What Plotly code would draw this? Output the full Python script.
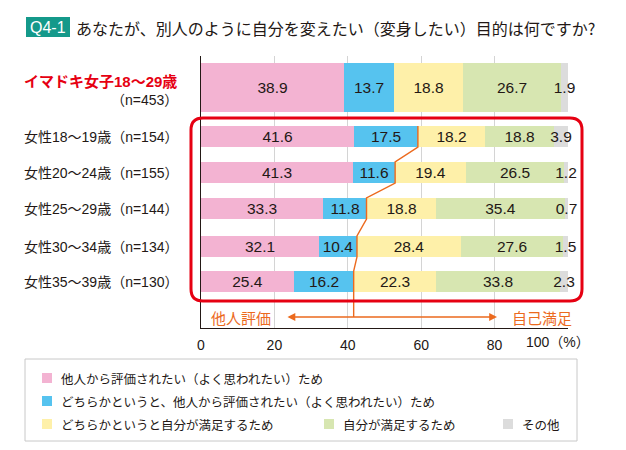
import plotly.graph_objects as go

# ---------------- data ----------------
categories = [
    "イマドキ女子18～29歳",
    "女性18～19歳（n=154）",
    "女性20～24歳（n=155）",
    "女性25～29歳（n=144）",
    "女性30～34歳（n=134）",
    "女性35～39歳（n=130）",
]
first_category_n = "（n=453）"

series_names = [
    "他人から評価されたい（よく思われたい）ため",
    "どちらかというと、他人から評価されたい（よく思われたい）ため",
    "どちらかというと自分が満足するため",
    "自分が満足するため",
    "その他",
]
s_other_eval = [38.9, 41.6, 41.3, 33.3, 32.1, 25.4]
s_rather_other = [13.7, 17.5, 11.6, 11.8, 10.4, 16.2]
s_rather_self = [18.8, 18.2, 19.4, 18.8, 28.4, 22.3]
s_self = [26.7, 18.8, 26.5, 35.4, 27.6, 33.8]
s_misc = [1.9, 3.9, 1.2, 0.7, 1.5, 2.3]

x_tick_vals = [0, 20, 40, 60, 80]
x_tick_text = ["0", "20", "40", "60", "80"]
x_last_label = "100（%）"

title_tag = "Q4-1"
title_text = "あなたが、別人のように自分を変えたい（変身したい）目的は何ですか?"
left_label = "他人評価"
right_label = "自己満足"

# ---------------- styles / layout ----------------
series_values = [s_other_eval, s_rather_other, s_rather_self, s_self, s_misc]
colors = ["#F3B3D2", "#56C3EF", "#FEF0A9", "#D7E6B1", "#DCDCDC"]
ORANGE = "#EC6A1E"
RED = "#E60012"
TEAL = "#14998A"
TXT = "#231815"
JP = "Noto Sans CJK JP"
MIX = "Liberation Sans, Noto Sans CJK JP"

W, H = 626, 450
PL, PR, PT, PB = 201, 568, 56, 328          # plot area in pixels
row_y = [87.5, 136.5, 172.5, 208.5, 246.5, 281.5]   # y axis is in pixel units
bar_w = [49, 21, 21, 21, 21, 21]
ARROW_Y = 317


def px(x):
    return (x - PL) / (PR - PL)


def py(y):
    return (PB - y) / (PB - PT)


def dx(p):
    return (p - PL) / (PR - PL) * 100


fig = go.Figure()

for name, vals, col in zip(series_names, series_values, colors):
    fig.add_trace(go.Bar(
        name=name, orientation="h", x=vals, y=row_y, width=bar_w,
        marker=dict(color=col, line=dict(width=0)),
        text=[f"{v:.1f}" for v in vals], textposition="inside",
        insidetextanchor="middle", textangle=0,
        textfont=dict(family=MIX, size=15.5, color=TXT),
        cliponaxis=False, showlegend=False, hoverinfo="skip",
    ))

# orange connector line along the boundary (pink + blue)
lx, ly = [], []
for i in range(1, len(row_y)):
    b = s_other_eval[i] + s_rather_other[i]
    lx += [b, b]
    ly += [row_y[i] - bar_w[i] / 2, row_y[i] + bar_w[i] / 2]
lx.append(lx[-1])
ly.append(ARROW_Y)
fig.add_trace(go.Scatter(x=lx, y=ly, mode="lines",
                         line=dict(color=ORANGE, width=1.4),
                         showlegend=False, hoverinfo="skip", cliponaxis=False))

shapes = []
annotations = []

# red rounded frame
def rounded(x0, y0, x1, y1, r):
    def P(x, y):
        return f"{px(x):.5f},{py(y):.5f}"
    return (f"M {P(x0 + r, y0)} L {P(x1 - r, y0)} Q {P(x1, y0)} {P(x1, y0 + r)} "
            f"L {P(x1, y1 - r)} Q {P(x1, y1)} {P(x1 - r, y1)} "
            f"L {P(x0 + r, y1)} Q {P(x0, y1)} {P(x0, y1 - r)} "
            f"L {P(x0, y0 + r)} Q {P(x0, y0)} {P(x0 + r, y0)} Z")

shapes.append(dict(type="path", xref="paper", yref="paper",
                   path=rounded(191, 118, 582, 301, 12),
                   line=dict(color=RED, width=3), fillcolor="rgba(0,0,0,0)",
                   layer="above"))

# title
shapes.append(dict(type="rect", xref="paper", yref="paper",
                   x0=px(26), x1=px(70), y0=py(17), y1=py(37),
                   fillcolor=TEAL, line=dict(width=0)))
annotations.append(dict(xref="paper", yref="paper", x=px(48), y=py(27.5),
                        text=title_tag, showarrow=False, xanchor="center", yanchor="middle",
                        font=dict(family=MIX, size=16, color="white")))
annotations.append(dict(xref="paper", yref="paper", x=px(74), y=py(27.5),
                        text=title_text, showarrow=False, xanchor="left", yanchor="middle",
                        font=dict(family=JP, size=16, color=TXT)))

# row labels
annotations.append(dict(xref="paper", yref="y", x=px(179), y=81,
                        text=f"<b>{categories[0]}</b>", showarrow=False,
                        xanchor="right", yanchor="middle",
                        font=dict(family=MIX, size=15, color=RED)))
annotations.append(dict(xref="paper", yref="y", x=px(180), y=99.5,
                        text=first_category_n, showarrow=False,
                        xanchor="right", yanchor="middle",
                        font=dict(family=MIX, size=14, color=TXT)))
for i in range(1, len(categories)):
    annotations.append(dict(xref="paper", yref="y", x=px(180), y=row_y[i],
                            text=categories[i], showarrow=False,
                            xanchor="right", yanchor="middle",
                            font=dict(family=MIX, size=14, color=TXT)))

# arrow and its labels
annotations.append(dict(xref="x", yref="y", axref="x", ayref="y",
                        x=dx(497), y=ARROW_Y, ax=dx(286), ay=ARROW_Y, text="",
                        showarrow=True, arrowhead=2, startarrowhead=2,
                        arrowside="end+start", arrowsize=1.2, startarrowsize=1.2,
                        arrowwidth=1.3, arrowcolor=ORANGE, standoff=0, startstandoff=0))
annotations.append(dict(xref="paper", yref="y", x=px(241), y=ARROW_Y,
                        text=left_label, showarrow=False, xanchor="center", yanchor="middle",
                        font=dict(family=JP, size=15, color=ORANGE)))
annotations.append(dict(xref="paper", yref="y", x=px(542), y=ARROW_Y,
                        text=right_label, showarrow=False, xanchor="center", yanchor="middle",
                        font=dict(family=JP, size=15, color=ORANGE)))

# last x tick label
annotations.append(dict(xref="paper", yref="paper", x=px(592), y=py(342),
                        text=x_last_label, showarrow=False, xanchor="right", yanchor="middle",
                        font=dict(family=MIX, size=14, color=TXT)))

# legend (drawn manually to reproduce the boxed layout)
shapes.append(dict(type="rect", xref="paper", yref="paper",
                   x0=px(25), x1=px(577), y0=py(359), y1=py(441),
                   line=dict(color="#C8C8C8", width=1), fillcolor="white"))
legend_pos = [(42, 378), (42, 401), (42, 424), (324, 424), (503, 424)]
for (lxp, lyp), name, col in zip(legend_pos, series_names, colors):
    shapes.append(dict(type="rect", xref="paper", yref="paper",
                       x0=px(lxp), x1=px(lxp + 10), y0=py(lyp - 5), y1=py(lyp + 5),
                       fillcolor=col, line=dict(width=0)))
    annotations.append(dict(xref="paper", yref="paper", x=px(lxp + 17), y=py(lyp),
                            text=name, showarrow=False, xanchor="left", yanchor="middle",
                            font=dict(family=JP, size=12.5, color=TXT)))

fig.update_layout(
    width=W, height=H,
    margin=dict(l=PL, r=W - PR, t=PT, b=H - PB, pad=0),
    paper_bgcolor="white", plot_bgcolor="white",
    barmode="stack", bargap=0,
    uniformtext=dict(minsize=15.5, mode="show"),
    shapes=shapes, annotations=annotations,
    showlegend=False,
    xaxis=dict(range=[0, 100], tickvals=x_tick_vals, ticktext=x_tick_text,
               showgrid=True, gridcolor="#D4D4D4", gridwidth=1,
               showline=True, linecolor="#231815", linewidth=1.3,
               zeroline=False, ticks="", ticklabelstandoff=4,
               tickfont=dict(family=MIX, size=14, color=TXT), fixedrange=True),
    yaxis=dict(range=[PB, PT], showticklabels=False, showgrid=False,
               zeroline=False, showline=True, linecolor="#231815", linewidth=1.3,
               ticks="", fixedrange=True),
)

fig.write_html("out.html", config={"displayModeBar": False},
               post_script="document.body.style.margin='0px';")
